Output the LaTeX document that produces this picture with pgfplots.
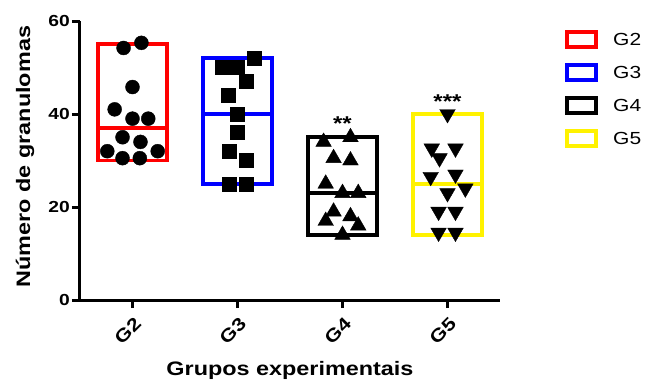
\documentclass[border=0pt]{standalone}
\usepackage{fontspec}
\setmainfont{Liberation Sans}[FakeStretch=1.2]
\usepackage{pgfplots}
\pgfplotsset{compat=1.18}

\newcommand{\tickfont}{\bfseries\fontsize{16}{16}\selectfont}
\newcommand{\xtickfont}{\bfseries\fontsize{18}{18}\selectfont}
\newcommand{\labelfont}{\bfseries\fontsize{19.5}{20}\selectfont}

\pgfplotsset{
  rangebox/.style={line width=3.8pt, mark=none, solid, line join=miter, line cap=rect}
}

\begin{document}
\begin{tikzpicture}
\path[use as bounding box] (-80pt,-83pt) rectangle (566pt,300pt);
\begin{axis}[
  at={(0pt,0pt)}, anchor=south west,
  scale only axis, width=420pt, height=279pt,
  xmin=-0.5, xmax=3.5, ymin=0, ymax=60,
  axis lines=left,
  axis line style={line width=3pt, -},
  tick align=outside, major tick length=8pt,
  tick style={line width=3pt, black},
  xtick={0,1,2,3}, xticklabels={G2,G3,G4,G5},
  ytick={0,20,40,60},
  /pgf/number format/assume math mode=true,
  xticklabel style={xshift=7pt, yshift=-11pt, rotate=45, anchor=east, font=\xtickfont, inner sep=2pt},
  yticklabel style={font=\tickfont, inner sep=2pt},
  xlabel={Grupos experimentais},
  ylabel={Número de granulomas},
  xlabel style={font=\labelfont, at={(axis description cs:0.5,-0.251)}, anchor=center},
  ylabel style={font=\labelfont, at={(axis description cs:-0.131,0.514)}, anchor=center},
  clip=false,
]
% min--max boxes (G2: 30-55, G3: 25-52, G4: 14-35, G5: 14-40)
\addplot[rangebox, red]    coordinates {(0,30) (0.33,30) (0.33,55) (-0.33,55) (-0.33,30) (0,30)};
\addplot[rangebox, blue]   coordinates {(1,25) (1.33,25) (1.33,52) (0.67,52) (0.67,25) (1,25)};
\addplot[rangebox, black]  coordinates {(2,14) (2.33,14) (2.33,35) (1.67,35) (1.67,14) (2,14)};
\addplot[rangebox, yellow] coordinates {(3,14) (3.33,14) (3.33,40) (2.67,40) (2.67,14) (3,14)};
% medians
\addplot[rangebox, red]    coordinates {(-0.33,37) (0.33,37)};
\addplot[rangebox, blue]   coordinates {(0.67,40) (1.33,40)};
\addplot[rangebox, black]  coordinates {(1.67,23) (2.33,23)};
\addplot[rangebox, yellow] coordinates {(2.67,25) (3.33,25)};

% individual animals
\addplot[only marks, mark=*, mark size=7pt, black, mark options={fill=black}] coordinates {
  (0.085,55.3) (-0.085,54.2) (0,45.8) (-0.17,41) (0,39) (0.15,39)
  (-0.095,35) (0.076,34) (-0.24,32) (0.24,32) (-0.095,30.5) (0.07,30.5)};
\addplot[only marks, mark=square*, mark size=7pt, black, mark options={fill=black}] coordinates {
  (0.85,50) (1,50) (1.16,52) (1.085,47) (0.915,44) (1,40)
  (1,36) (0.924,32) (1.085,30) (0.924,25) (1.085,25)};
\addplot[only marks, mark=triangle*, mark size=9pt, black, mark options={fill=black}] coordinates {
  (2.076,35) (1.82,34) (1.915,30.5) (2.076,30) (1.84,25) (2,23)
  (2.15,23) (1.915,19) (1.84,17) (2.076,18) (2.15,16) (2,14)};
\addplot[only marks, mark=triangle*, mark size=9pt, black, mark options={fill=black, rotate=180}] coordinates {
  (3,40) (2.85,32.6) (3.076,32.6) (2.924,30.5) (2.84,26.5) (3.076,27)
  (3.17,24) (3,23) (2.915,19) (3.076,19) (2.915,14.5) (3.076,14.5)};

\node[font=\bfseries\fontsize{20}{20}\selectfont] at (axis cs:2,37.9) {**};
\node[font=\bfseries\fontsize{20}{20}\selectfont] at (axis cs:3,42.6) {***};
\end{axis}

% legend
\foreach \c/\t [count=\i from 0] in {red/G2, blue/G3, black/G4, yellow/G5} {
  \pgfmathsetmacro{\yc}{260.5-33*\i}
  \draw[\c, line width=4.2pt] (487.1pt,\yc pt-7.4pt) rectangle (515.9pt,\yc pt+7.4pt);
  \node[anchor=west, inner sep=0pt, font=\fontsize{17.5}{17.5}\selectfont] at (533pt,\yc pt) {\t};
}
\end{tikzpicture}
\end{document}
